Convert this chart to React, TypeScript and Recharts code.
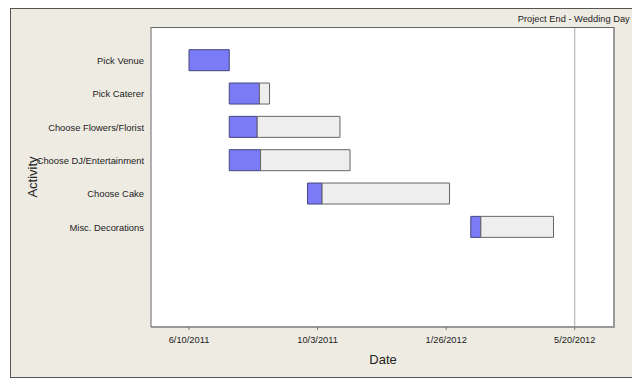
import {
  Bar,
  BarChart,
  CartesianGrid,
  Label,
  ReferenceLine,
  XAxis,
  YAxis,
} from "recharts";

const activities = [
  "Pick Venue",
  "Pick Caterer",
  "Choose Flowers/Florist",
  "Choose DJ/Entertainment",
  "Choose Cake",
  "Misc. Decorations",
];
const startDates = ["6/10/2011", "7/16/2011", "7/16/2011", "7/16/2011", "9/24/2011", "2/17/2012"];
const progressDates = ["7/16/2011", "8/12/2011", "8/10/2011", "8/13/2011", "10/7/2011", "2/26/2012"];
const endDates = ["7/16/2011", "8/21/2011", "10/23/2011", "11/1/2011", "1/29/2012", "5/1/2012"];
const tickLabels = ["6/10/2011", "10/3/2011", "1/26/2012", "5/20/2012"];
const projectEnd = "5/20/2012";
const projectEndLabel = "Project End - Wedding Day";

const FONT = "'Liberation Sans', Arial, sans-serif";

// days counted from the first tick date
const toDay = (s: string) => {
  const [m, d, y] = s.split("/").map(Number);
  const base = Date.UTC(2011, 5, 10);
  return Math.round((Date.UTC(y, m - 1, d) - base) / 86400000);
};

const data = activities.map((activity, i) => {
  const start = toDay(startDates[i]);
  const prog = toDay(progressDates[i]);
  const end = toDay(endDates[i]);
  return {
    activity,
    offset: start,
    done: prog - start,
    remaining: end - prog,
  };
});

const ticks = tickLabels.map(toDay);
const labelFor = (v: number) => tickLabels[ticks.indexOf(v)] ?? "";

const ActivityTick = ({ x, y, payload }: any) => (
  <text
    x={x}
    y={y}
    textAnchor="end"
    dominantBaseline="central"
    fontFamily={FONT}
    fontSize={9.4}
    fill="#222"
  >
    {payload.value}
  </text>
);

const ActivityLabel = ({ viewBox }: any) => {
  const cy = viewBox.y + viewBox.height / 2;
  return (
    <text
      x={21}
      y={cy}
      transform={`rotate(-90, 21, ${cy})`}
      textAnchor="middle"
      dominantBaseline="central"
      fontFamily={FONT}
      fontSize={13}
      fill="#222"
    >
      Activity
    </text>
  );
};

const EndLabel = ({ viewBox }: any) => (
  <text
    x={viewBox.x + 55}
    y={viewBox.y - 5}
    textAnchor="end"
    fontFamily={FONT}
    fontSize={9.3}
    fill="#222"
  >
    {projectEndLabel}
  </text>
);

export default function App() {
  return (
    <div
      style={{
        position: "relative",
        marginLeft: 2,
        width: 624,
        height: 370,
        boxSizing: "border-box",
        border: "1px solid #555",
        background: "#EEEBE3",
      }}
    >
      <BarChart
        layout="vertical"
        data={data}
        width={622}
        height={368}
        margin={{ top: 18, right: 18, bottom: 10, left: 0 }}
        barSize={21}
      >
        <CartesianGrid fill="#fff" horizontal={false} vertical={false} />
        <XAxis
          type="number"
          dataKey="offset"
          domain={[-34, 381]}
          allowDataOverflow
          ticks={ticks}
          tickFormatter={labelFor}
          tickSize={3}
          tickMargin={6}
          height={40}
          stroke="#999"
          axisLine={{ stroke: "#999", strokeWidth: 2 }}
          tickLine={{ stroke: "#777" }}
          tick={{ fill: "#222", fontSize: 9.3, fontFamily: FONT }}
        >
          <Label
            value="Date"
            position="insideBottom"
            offset={3}
            style={{ fontSize: 13, fontFamily: FONT, fill: "#222" }}
          />
        </XAxis>
        <YAxis
          type="category"
          dataKey="activity"
          width={140}
          padding={{ top: 16.7, bottom: 83.3 }}
          tickSize={0}
          tickMargin={7}
          axisLine={{ stroke: "#666" }}
          tick={<ActivityTick />}
        >
          <Label content={<ActivityLabel />} />
        </YAxis>
        <ReferenceLine
          x={toDay(projectEnd)}
          stroke="#aaa"
          strokeWidth={1}
          label={<EndLabel />}
        />
        <Bar dataKey="offset" stackId="g" fill="transparent" isAnimationActive={false} />
        <Bar
          dataKey="done"
          stackId="g"
          fill="#7B7BF8"
          stroke="#45457F"
          strokeWidth={1}
          isAnimationActive={false}
        />
        <Bar
          dataKey="remaining"
          stackId="g"
          fill="#EEEEEE"
          stroke="#666"
          strokeWidth={1}
          isAnimationActive={false}
        />
      </BarChart>
      {/* top and right edges of the plot frame */}
      <div
        style={{
          position: "absolute",
          left: 140,
          top: 18,
          width: 464,
          height: 300,
          borderTop: "1px solid #666",
          borderRight: "2px solid #999",
          boxSizing: "border-box",
          pointerEvents: "none",
        }}
      />
    </div>
  );
}
